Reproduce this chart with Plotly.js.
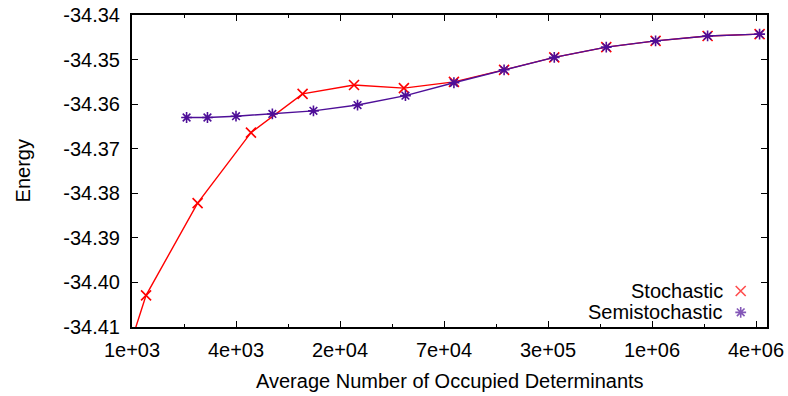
<!DOCTYPE html>
<html>
<head>
<meta charset="utf-8">
<script src="https://cdn.plot.ly/plotly-3.0.1.min.js"></script>
<style>
  html, body { margin: 0; padding: 0; background: #fff; }
  #chart { width: 788px; height: 396px; }
</style>
</head>
<body>
<div id="chart"></div>
<script>
// Stochastic run: average occupied determinants vs. energy
const stochN = [740, 1235, 2455, 5000, 9950, 19750, 38400, 74800, 146000, 285000, 570000, 1100000, 2200000, 4400000];
const stochE = [-34.4297, -34.4029, -34.3822, -34.3664, -34.3577, -34.3557, -34.3564, -34.3550,
                -34.3523, -34.3495, -34.3472, -34.3458, -34.3447, -34.3443];

// Semistochastic run
const semiN = [2120, 2800, 4096, 6650, 11500, 20700, 39200, 74800, 146000, 285000, 570000, 1100000, 2200000, 4400000];
const semiE = [-34.3630, -34.3630, -34.3627, -34.3622, -34.3615, -34.3602, -34.3581, -34.3552,
               -34.3523, -34.3495, -34.3472, -34.3458, -34.3447, -34.3443];

// Axis ticks: powers of two, labelled in %.0e style
const xMajorVals = [1024, 4096, 16384, 65536, 262144, 1048576, 4194304];
const xMajorText = ['1e+03', '4e+03', '2e+04', '7e+04', '3e+05', '1e+06', '4e+06'];
const xMinorVals = [2048, 8192, 32768, 131072, 524288, 2097152];
const yTickVals = [-34.41, -34.40, -34.39, -34.38, -34.37, -34.36, -34.35, -34.34];

const seriesNames = ['Stochastic', 'Semistochastic'];
const red = '#ff0000';
const purple = '#4e0f98';
const font = 'Liberation Sans, Arial, sans-serif';

const traces = [
  {
    x: stochN, y: stochE, type: 'scatter', mode: 'lines+markers', name: seriesNames[0],
    line: {color: red, width: 1.4},
    marker: {symbol: 'x-thin-open', size: 10, color: red, line: {color: red, width: 1.6}},
    cliponaxis: true, showlegend: false
  },
  {
    x: semiN, y: semiE, type: 'scatter', mode: 'lines+markers', name: seriesNames[1],
    line: {color: purple, width: 1.4},
    marker: {symbol: 'asterisk-open', size: 9, color: purple, line: {color: purple, width: 1.6}},
    cliponaxis: true, showlegend: false
  },
  // key symbols, on a unit overlay axis
  {
    x: [0.9586, 0.9586], y: [0.1154, 0.047], xaxis: 'x2', yaxis: 'y2',
    type: 'scatter', mode: 'markers', showlegend: false, hoverinfo: 'skip',
    marker: {
      symbol: ['x-thin-open', 'asterisk-open'], size: [10, 9],
      color: [red, purple], line: {color: [red, purple], width: 1.6}
    }
  }
];

const axisCommon = {
  showgrid: false, zeroline: false, showline: true, linecolor: '#000', linewidth: 2,
  mirror: 'allticks', ticks: 'inside', tickcolor: '#000', tickwidth: 1, ticklen: 6,
  tickfont: {family: font, size: 20, color: '#000'}
};

const layout = {
  width: 788, height: 396,
  margin: {l: 132, r: 21, t: 15, b: 69},
  paper_bgcolor: '#fff', plot_bgcolor: '#fff',
  showlegend: false,
  xaxis: Object.assign({}, axisCommon, {
    type: 'log',
    range: [Math.log10(1024), 22.2115 * Math.log10(2)],
    tickmode: 'array', tickvals: xMajorVals, ticktext: xMajorText,
    ticklabelstandoff: 4,
    minor: {tickmode: 'array', tickvals: xMinorVals, ticks: 'inside', ticklen: 3, tickcolor: '#000', tickwidth: 1}
  }),
  yaxis: Object.assign({}, axisCommon, {
    range: [-34.41, -34.34],
    tickmode: 'array', tickvals: yTickVals,
    ticktext: yTickVals.map(v => v.toFixed(2)),
    ticklabelstandoff: 6
  }),
  xaxis2: {overlaying: 'x', range: [0, 1], visible: false, fixedrange: true},
  yaxis2: {overlaying: 'y', range: [0, 1], visible: false, fixedrange: true},
  annotations: [
    {text: 'Average Number of Occupied Determinants', xref: 'paper', yref: 'paper',
     x: 0.5, y: -0.173, xanchor: 'center', yanchor: 'middle', showarrow: false,
     font: {family: font, size: 20, color: '#000'}},
    {text: 'Energy', xref: 'paper', yref: 'paper', x: -0.171, y: 0.5, textangle: -90,
     xanchor: 'center', yanchor: 'middle', showarrow: false,
     font: {family: font, size: 20, color: '#000'}},
    {text: seriesNames[0], xref: 'paper', yref: 'paper', x: 0.934, y: 0.1154,
     xanchor: 'right', yanchor: 'middle', showarrow: false,
     font: {family: font, size: 20, color: '#000'}},
    {text: seriesNames[1], xref: 'paper', yref: 'paper', x: 0.934, y: 0.047,
     xanchor: 'right', yanchor: 'middle', showarrow: false,
     font: {family: font, size: 20, color: '#000'}}
  ]
};

Plotly.newPlot('chart', traces, layout, {displayModeBar: false, staticPlot: true});
</script>
</body>
</html>
